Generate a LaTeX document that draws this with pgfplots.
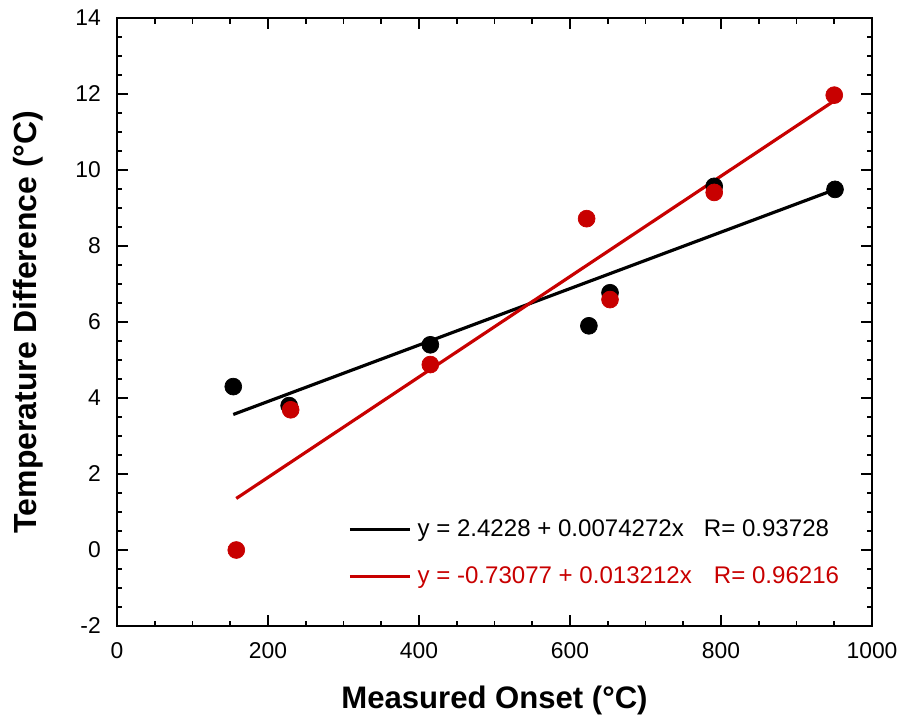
\documentclass[border=0pt]{standalone}
\usepackage{fontspec}
\setmainfont{Liberation Sans}
\usepackage{pgfplots}
\pgfplotsset{compat=1.18}
\definecolor{fitred}{RGB}{200,0,0}

\begin{document}
\begin{tikzpicture}
\begin{axis}[
    scale only axis,
    width=15.1cm, height=12.16cm,
    xmin=0, xmax=1000,
    ymin=-2, ymax=14,
    xtick={0,200,...,1000},
    ytick={-2,0,...,14},
    minor x tick num=3,
    minor y tick num=3,
    tick align=inside,
    major tick length=0.22cm,
    minor tick length=0.11cm,
    axis line style={line width=1.1pt},
    every tick/.style={black, line width=1.1pt},
    /pgf/number format/assume math mode=true,
    /pgf/number format/set thousands separator={},
    tick label style={font=\fontsize{13}{15}\selectfont},
    xticklabel style={yshift=-0.2cm},
    yticklabel style={xshift=-0.2cm},
    xlabel={\textbf{Measured Onset (°C)}},
    ylabel={\textbf{Temperature Difference (°C)}},
    every axis x label/.style={at={(axis description cs:0.5,-0.123)}, anchor=center,
        font=\fontsize{17.7}{20}\selectfont},
    every axis y label/.style={at={(axis description cs:-0.118,0.5)}, anchor=center,
        rotate=90, font=\fontsize{18.2}{20}\selectfont},
    legend style={at={(axis cs:306,-0.08)}, anchor=west, draw=none, fill=none,
        font=\fontsize{13.7}{16}\selectfont, row sep=0.42cm,
        inner xsep=0pt, inner ysep=0pt},
    legend cell align=left,
    legend image code/.code={\draw[#1] (0cm,0cm) -- (1.2cm,0cm);},
]
% black data
\addplot[only marks, mark=*, mark size=4.8pt, black, forget plot]
    coordinates {(154,4.3)(228,3.8)(415,5.4)(625,5.9)(653,6.77)(791,9.57)(951,9.49)};
% red data
\addplot[only marks, mark=*, mark size=4.8pt, fitred, forget plot]
    coordinates {(158,0)(230,3.69)(415,4.88)(622,8.72)(653,6.59)(791,9.41)(950,11.97)};
% fit lines (endpoints from the printed equations)
\addplot[black, line width=1.8pt]
    coordinates {(154,3.5666)(951,9.4861)};
\addlegendentry{\hspace{0.05cm}y = 2.4228 + 0.0074272x\hspace{0.4cm}R= 0.93728}
\addplot[fitred, line width=1.8pt]
    coordinates {(158,1.3567)(950,11.8206)};
\addlegendentry{\hspace{0.05cm}\textcolor{fitred}{y = -0.73077 + 0.013212x\hspace{0.44cm}R= 0.96216}}
\end{axis}
\pgfresetboundingbox
\path (current axis.south west) ++(-2.34cm,-1.82cm) rectangle ++(18.02cm,14.34cm);
\end{tikzpicture}
\end{document}
